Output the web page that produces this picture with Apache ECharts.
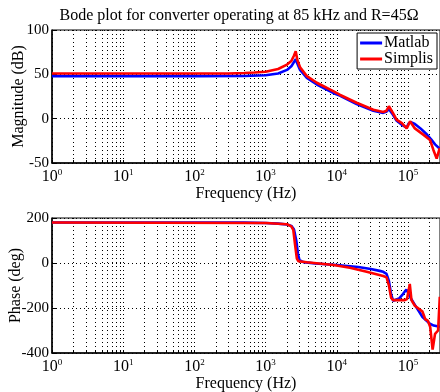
<!DOCTYPE html>
<html>
<head>
<meta charset="utf-8">
<script src="https://cdn.jsdelivr.net/npm/echarts@6/dist/echarts.min.js"></script>
<style>
  html, body { margin: 0; padding: 0; background: #fff; }
  #chart { width: 440px; height: 392px; }
</style>
</head>
<body>
<div id="chart"></div>
<script>
// Magnitude response (dB)
const magFreqMatlab = [1, 10, 100, 500, 1000, 1500, 2000, 2300, 2650, 2800, 3050, 3800, 5250, 8900, 11000, 19000, 32600, 45000, 50000, 54000, 62000, 69000, 82000, 96000, 102000, 110000, 125000, 150000, 180000, 210000, 240000, 280000];
const magMatlab     = [48, 48, 48, 48.2, 49, 51, 55, 59, 67, 62, 55, 46, 38.5, 29, 26, 16.5, 9, 6.5, 8, 11, 4, -2, -7, -10, -5.5, -4, -6, -11, -17, -23, -29, -34];

const magFreqSimplis = [1, 10, 100, 300, 500, 700, 1000, 1500, 2000, 2300, 2500, 2650, 2800, 3050, 3800, 5250, 8900, 11000, 19000, 32600, 45000, 50000, 54000, 62000, 69000, 82000, 96000, 100000, 107000, 125000, 164000, 204000, 227000, 253000, 265000, 280000];
const magSimplis     = [51, 51, 51, 51, 51.5, 52, 53, 56, 61, 65, 71, 76, 66, 58, 48, 40.5, 31, 27, 18, 10, 7.5, 9, 14, 6, -1, -5, -11, -11, -3, -11, -18, -24, -35, -45, -44, -33];

// Phase response (deg)
const phFreqMatlab = [1, 100, 500, 1000, 1500, 2000, 2300, 2500, 2700, 2850, 3000, 3400, 5000, 10000, 20000, 30000, 40000, 45000, 50000, 54000, 58000, 62000, 66000, 75000, 85000, 95000, 100000, 110000, 130000, 160000, 200000, 230000, 280000];
const phMatlab     = [180, 180, 179.5, 178, 175, 171, 165, 150, 100, 40, 12, 4, -2, -9, -18, -27, -35, -39, -48, -80, -140, -168, -170, -158, -138, -118, -130, -158, -195, -240, -268, -278, -283];

const phFreqSimplis = [1, 1000, 2000, 2300, 2450, 2600, 2750, 2900, 3800, 9000, 15300, 26300, 45000, 50000, 54000, 58000, 62000, 90000, 97000, 106000, 112000, 125000, 160000, 175000, 190000, 205000, 222000, 240000, 265000, 280000];
const phSimplis     = [180, 178, 172, 163, 147, 80, 20, 8, 3, -9, -21, -39, -58, -64, -100, -155, -165, -165, -160, -93, -165, -190, -216, -250, -256, -283, -385, -315, -300, -150];

// Axis ticks
const freqMin = 1;
const freqMax = Math.pow(10, 5.45);
const decadeTicks = [1, 10, 100, 1000, 10000, 100000];
const gridTicks = [];
decadeTicks.forEach(d => { for (let k = 1; k <= 9; k++) gridTicks.push(d * k); });

const serif = 'Liberation Serif';
const blue = '#0000ff';
const red = '#ff0000';

function zip(xs, ys) { return xs.map((x, i) => [x, ys[i]]); }

function freqAxis(gridIndex) {
  return {
    type: 'log',
    logBase: 10,
    gridIndex: gridIndex,
    min: freqMin,
    max: freqMax,
    name: 'Frequency (Hz)',
    nameLocation: 'middle',
    nameGap: 23,
    nameMoveOverlap: false,
    nameTextStyle: { fontFamily: serif, fontSize: 16, color: '#000' },
    axisLine: { show: true, onZero: false, lineStyle: { color: '#000', width: 1.5 } },
    axisTick: { show: true, inside: true, length: 3, customValues: gridTicks, lineStyle: { color: '#000' } },
    splitLine: { show: true, lineStyle: { color: '#000', type: [1, 3], width: 1 } },
    axisLabel: {
      customValues: decadeTicks,
      margin: 5,
      color: '#000',
      formatter: v => '{b|10}{e|' + Math.round(Math.log10(v)) + '}',
      rich: {
        b: { fontFamily: serif, fontSize: 16, color: '#000', lineHeight: 18 },
        e: { fontFamily: serif, fontSize: 9, color: '#000', verticalAlign: 'top', lineHeight: 9 }
      }
    }
  };
}

function valueAxis(gridIndex, name, min, max, interval, nameGap) {
  return {
    type: 'value',
    gridIndex: gridIndex,
    min: min, max: max, interval: interval,
    name: name,
    nameLocation: 'middle',
    nameGap: nameGap,
    nameMoveOverlap: false,
    nameTextStyle: { fontFamily: serif, fontSize: 16, color: '#000' },
    axisLine: { show: true, lineStyle: { color: '#000', width: 1.5 } },
    axisTick: { show: true, inside: true, length: 4, lineStyle: { color: '#000' } },
    splitLine: { show: true, lineStyle: { color: '#000', type: [1, 3], width: 1 } },
    axisLabel: { fontFamily: serif, fontSize: 15, color: '#000', margin: 3 }
  };
}

function lineSeries(name, color, data, xi, yi) {
  return {
    name: name, type: 'line', xAxisIndex: xi, yAxisIndex: yi,
    data: data, showSymbol: false, symbol: 'none', smooth: false,
    lineStyle: { color: color, width: 2.6 }, itemStyle: { color: color },
    animation: false
  };
}

const chart = echarts.init(document.getElementById('chart'), null, { renderer: 'canvas' });
chart.setOption({
  backgroundColor: '#fff',
  animation: false,
  title: {
    text: 'Bode plot for converter operating at 85 kHz and R=45\u03A9',
    left: 234, top: 3, textAlign: 'center',
    textStyle: { fontFamily: serif, fontSize: 16, fontWeight: 'normal', color: '#000' }
  },
  legend: {
    data: ['Matlab', 'Simplis'],
    orient: 'vertical',
    right: 3, top: 33,
    backgroundColor: '#fff',
    borderColor: '#000', borderWidth: 1,
    padding: [2, 4, 2, 3],
    itemGap: 0,
    itemWidth: 22, itemHeight: 3,
    icon: 'rect',
    textStyle: { fontFamily: serif, fontSize: 16, color: '#000', padding: [0, 0, 0, -3] }
  },
  grid: [
    { left: 52, top: 30, width: 388, height: 133, outerBoundsMode: 'none', containLabel: false, show: true, borderColor: '#000', borderWidth: 1, backgroundColor: 'transparent' },
    { left: 52, top: 218, width: 388, height: 135, outerBoundsMode: 'none', containLabel: false, show: true, borderColor: '#000', borderWidth: 1, backgroundColor: 'transparent' }
  ],
  xAxis: [freqAxis(0), freqAxis(1)],
  yAxis: [
    valueAxis(0, 'Magnitude (dB)', -50, 100, 50, 25),
    valueAxis(1, 'Phase (deg)', -400, 200, 200, 28)
  ],
  series: [
    lineSeries('Matlab', blue, zip(magFreqMatlab, magMatlab), 0, 0),
    lineSeries('Simplis', red, zip(magFreqSimplis, magSimplis), 0, 0),
    lineSeries('Matlab', blue, zip(phFreqMatlab, phMatlab), 1, 1),
    lineSeries('Simplis', red, zip(phFreqSimplis, phSimplis), 1, 1)
  ]
});
</script>
</body>
</html>
